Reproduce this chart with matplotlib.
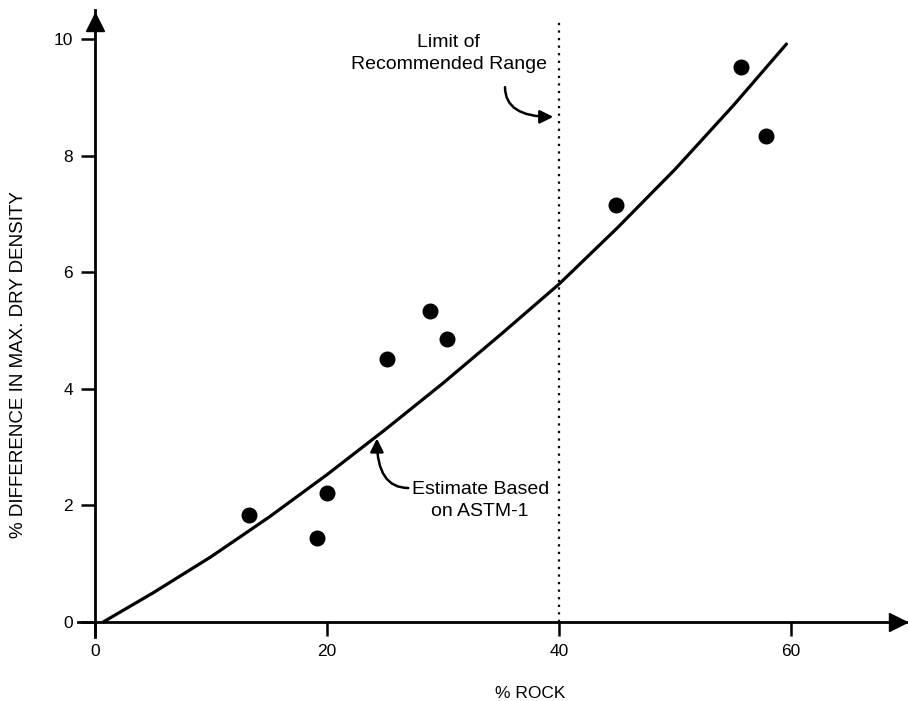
import matplotlib
matplotlib.use("Agg")
import matplotlib.pyplot as plt

plt.rcParams['font.family'] = ['Liberation Sans', 'DejaVu Sans']

# Data
rock_pct = [13.3, 19.1, 20.0, 25.2, 28.9, 30.3, 44.9, 55.7, 57.8]
density_diff = [1.84, 1.45, 2.21, 4.52, 5.33, 4.85, 7.16, 9.53, 8.34]

curve_x = [0.7, 5, 10, 15, 20, 25, 30, 35, 40, 45, 50, 55, 59.6]
curve_y = [0.0, 0.50, 1.12, 1.80, 2.53, 3.30, 4.10, 4.94, 5.80, 6.76, 7.77, 8.86, 9.92]

limit_x = 40
x_ticks = [0, 20, 40, 60]
y_ticks = [0, 2, 4, 6, 8, 10]

fig = plt.figure(figsize=(9.08, 7.01), dpi=100)
ax = fig.add_axes([0.0855, 0.0919, 0.9135, 0.8935])
ax.set_xlim(-1.5, 70)
ax.set_ylim(-0.25, 10.5)

for s in ['top', 'right']:
    ax.spines[s].set_visible(False)
ax.spines['left'].set_position(('data', 0))
ax.spines['bottom'].set_position(('data', 0))
ax.spines['left'].set_linewidth(2)
ax.spines['bottom'].set_linewidth(2)

# arrow heads on axes
ax.plot(69.2, 0, marker='>', color='k', ms=13, clip_on=False)
ax.plot(0, 10.3, marker='^', color='k', ms=13, clip_on=False)

ax.set_xticks(x_ticks)
ax.set_yticks(y_ticks)
ax.tick_params(axis='both', direction='out', length=10, width=1.8, labelsize=12.5)
ax.tick_params(axis='x', pad=6)
ax.tick_params(axis='y', pad=6)

# curve
ax.plot(curve_x, curve_y, color='k', lw=2.3, solid_capstyle='round',
        solid_joinstyle='round')
# data points
ax.plot(rock_pct, density_diff, 'o', color='k', ms=10.5, ls='none')
# limit line
ax.plot([limit_x, limit_x], [0, 10.35], color='k', lw=1.6, ls=(0, (1, 2.4)))

ax.set_xlabel('% ROCK', fontsize=12.5)
ax.xaxis.set_label_coords(0.545, -0.079)
ax.set_ylabel('% DIFFERENCE IN MAX. DRY DENSITY', fontsize=13.5)
ax.yaxis.set_label_coords(-0.061, 0.435)

ax.text(30.47, 9.76, 'Limit of\nRecommended Range', ha='center', va='center',
        fontsize=14, linespacing=1.35)
ax.annotate('', xy=(39.5, 8.67), xytext=(35.34, 9.18),
            arrowprops=dict(arrowstyle='-|>', color='k', lw=1.8, mutation_scale=20,
                            shrinkA=0, shrinkB=0,
                            connectionstyle='angle3,angleA=90,angleB=0'))

ax.text(33.2, 2.085, 'Estimate Based\non ASTM-1', ha='center', va='center',
        fontsize=14, linespacing=1.35)
ax.annotate('', xy=(24.3, 3.15), xytext=(27.0, 2.30),
            arrowprops=dict(arrowstyle='-|>', color='k', lw=1.8, mutation_scale=20,
                            shrinkA=0, shrinkB=0,
                            connectionstyle='angle3,angleA=0,angleB=90'))

fig.savefig('out.png', dpi=100)
